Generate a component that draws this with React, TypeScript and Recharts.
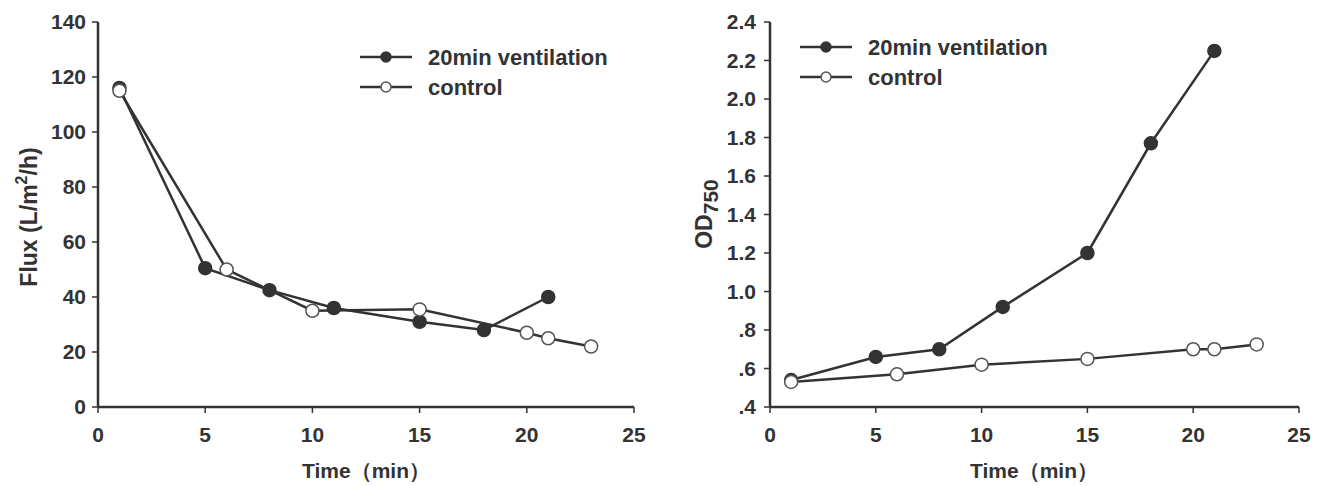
import React from 'react';
import { LineChart, Line, XAxis, YAxis } from 'recharts';

// ---- data ----
const seriesNames = ['20min ventilation', 'control'];
const xTicks = [0, 5, 10, 15, 20, 25];

const fluxVentTime = [1, 5, 8, 11, 15, 18, 21];
const fluxVentValue = [116, 50.5, 42.5, 36, 31, 28, 40];
const fluxCtrlTime = [1, 6, 10, 15, 20, 21, 23];
const fluxCtrlValue = [115, 50, 35, 35.5, 27, 25, 22];
const fluxTicks = [0, 20, 40, 60, 80, 100, 120, 140];

const odVentTime = [1, 5, 8, 11, 15, 18, 21];
const odVentValue = [0.54, 0.66, 0.7, 0.92, 1.2, 1.77, 2.25];
const odCtrlTime = [1, 6, 10, 15, 20, 21, 23];
const odCtrlValue = [0.53, 0.57, 0.62, 0.65, 0.7, 0.7, 0.725];
const odTicks = [0.4, 0.6, 0.8, 1.0, 1.2, 1.4, 1.6, 1.8, 2.0, 2.2, 2.4];

const toPts = (xs: number[], ys: number[]) => xs.map((x, i) => ({ x, y: ys[i] }));
const fluxVent = toPts(fluxVentTime, fluxVentValue);
const fluxCtrl = toPts(fluxCtrlTime, fluxCtrlValue);
const odVent = toPts(odVentTime, odVentValue);
const odCtrl = toPts(odCtrlTime, odCtrlValue);

// ---- style ----
const INK = '#333333';
const FONT = '"Liberation Sans", Arial, sans-serif';
const TICK_FS = 21;
const tickStyle = { fill: INK, fontSize: TICK_FS, fontWeight: 700, fontFamily: FONT };

const filledDot = { r: 6.5, fill: INK, stroke: INK, strokeWidth: 1.5 };
const openDot = { r: 6.5, fill: '#ffffff', stroke: '#555555', strokeWidth: 1.5 };

const LegendBox = ({ left, top }: { left: number; top: number }) => (
  <svg width={300} height={70} style={{ position: 'absolute', left, top, overflow: 'visible' }}>
    {seriesNames.map((name, i) => {
      const y = 15 + i * 30;
      return (
        <g key={name}>
          <line x1={0} x2={52} y1={y} y2={y} stroke={INK} strokeWidth={2.5} />
          <circle cx={26} cy={y} r={5} fill={i === 0 ? INK : '#fff'} stroke={i === 0 ? INK : '#555'} strokeWidth={1.5} />
          <text x={68} y={y} dominantBaseline="central" fill={INK} fontSize={22} fontWeight={700} fontFamily={FONT}>
            {name}
          </text>
        </g>
      );
    })}
  </svg>
);

const odFormat = (v: number) => {
  const s = v.toFixed(1);
  return v < 1 ? s.replace(/^0/, '') : s;
};

const TimeLabel = (cx: number) => () => (
  <text x={cx} y={470} textAnchor="middle" dominantBaseline="central" fill={INK} fontSize={21} fontWeight={700} fontFamily={FONT}>
    Time（min）
  </text>
);

const FluxLabel = () => (
  <text transform="translate(29,217) rotate(-90)" textAnchor="middle" dominantBaseline="central" fill={INK} fontSize={23} fontWeight={700} fontFamily={FONT}>
    Flux (L/m<tspan dy={-8} fontSize={16}>2</tspan><tspan dy={8}>/h)</tspan>
  </text>
);

const ODLabel = () => (
  <text transform="translate(44,214) rotate(-90)" textAnchor="middle" dominantBaseline="central" fill={INK} fontSize={23} fontWeight={700} fontFamily={FONT}>
    OD<tspan dy={6} fontSize={21}>750</tspan>
  </text>
);

const frameProps = { stroke: INK, strokeWidth: 2.5 };

export default function App() {
  return (
    <div style={{ position: 'absolute', left: 0, top: 0, width: 1325, height: 486, background: '#fff' }}>
      <div style={{ position: 'absolute', left: 0, top: 0 }}>
        <LineChart width={660} height={486} margin={{ top: 22, right: 26, bottom: 19, left: 0 }}>
          <XAxis
            dataKey="x"
            type="number"
            domain={[0, 25]}
            ticks={xTicks}
            height={60}
            axisLine={frameProps}
            tickLine={{ stroke: INK, strokeWidth: 1.5 }}
            tickSize={6}
            tickMargin={14}
            tick={tickStyle}
            label={{ content: TimeLabel(366) }}
            allowDuplicatedCategory={false}
          />
          <XAxis xAxisId="top" orientation="top" type="number" domain={[0, 25]} height={0} tick={false} tickLine={false} axisLine={frameProps} />
          <YAxis
            type="number"
            domain={[0, 140]}
            ticks={fluxTicks}
            width={98}
            axisLine={frameProps}
            tickLine={{ stroke: INK, strokeWidth: 1.5 }}
            tickSize={6}
            tickMargin={6}
            tick={tickStyle}
            label={{ content: FluxLabel }}
          />
          <YAxis yAxisId="right" orientation="right" type="number" domain={[0, 140]} width={0} tick={false} tickLine={false} axisLine={frameProps} />
          <Line data={fluxVent} dataKey="y" name={seriesNames[0]} stroke={INK} strokeWidth={2.5} dot={filledDot} isAnimationActive={false} />
          <Line data={fluxCtrl} dataKey="y" name={seriesNames[1]} stroke={INK} strokeWidth={2.5} dot={openDot} isAnimationActive={false} />
        </LineChart>
        <LegendBox left={360} top={42} />
      </div>
      <div style={{ position: 'absolute', left: 660, top: 0 }}>
        <LineChart width={665} height={486} margin={{ top: 22, right: 26, bottom: 19, left: 0 }}>
          <XAxis
            dataKey="x"
            type="number"
            domain={[0, 25]}
            ticks={xTicks}
            height={60}
            axisLine={frameProps}
            tickLine={{ stroke: INK, strokeWidth: 1.5 }}
            tickSize={6}
            tickMargin={14}
            tick={tickStyle}
            label={{ content: TimeLabel(374) }}
            allowDuplicatedCategory={false}
          />
          <XAxis xAxisId="top" orientation="top" type="number" domain={[0, 25]} height={0} tick={false} tickLine={false} axisLine={frameProps} />
          <YAxis
            type="number"
            domain={[0.4, 2.4]}
            ticks={odTicks}
            width={110}
            axisLine={frameProps}
            tickLine={{ stroke: INK, strokeWidth: 1.5 }}
            tickSize={6}
            tickMargin={8}
            tick={tickStyle}
            tickFormatter={odFormat}
            label={{ content: ODLabel }}
          />
          <YAxis yAxisId="right" orientation="right" type="number" domain={[0.4, 2.4]} width={0} tick={false} tickLine={false} axisLine={frameProps} />
          <Line data={odVent} dataKey="y" name={seriesNames[0]} stroke={INK} strokeWidth={2.5} dot={filledDot} isAnimationActive={false} />
          <Line data={odCtrl} dataKey="y" name={seriesNames[1]} stroke={INK} strokeWidth={2.5} dot={openDot} isAnimationActive={false} />
        </LineChart>
        <LegendBox left={140} top={32} />
      </div>
    </div>
  );
}
